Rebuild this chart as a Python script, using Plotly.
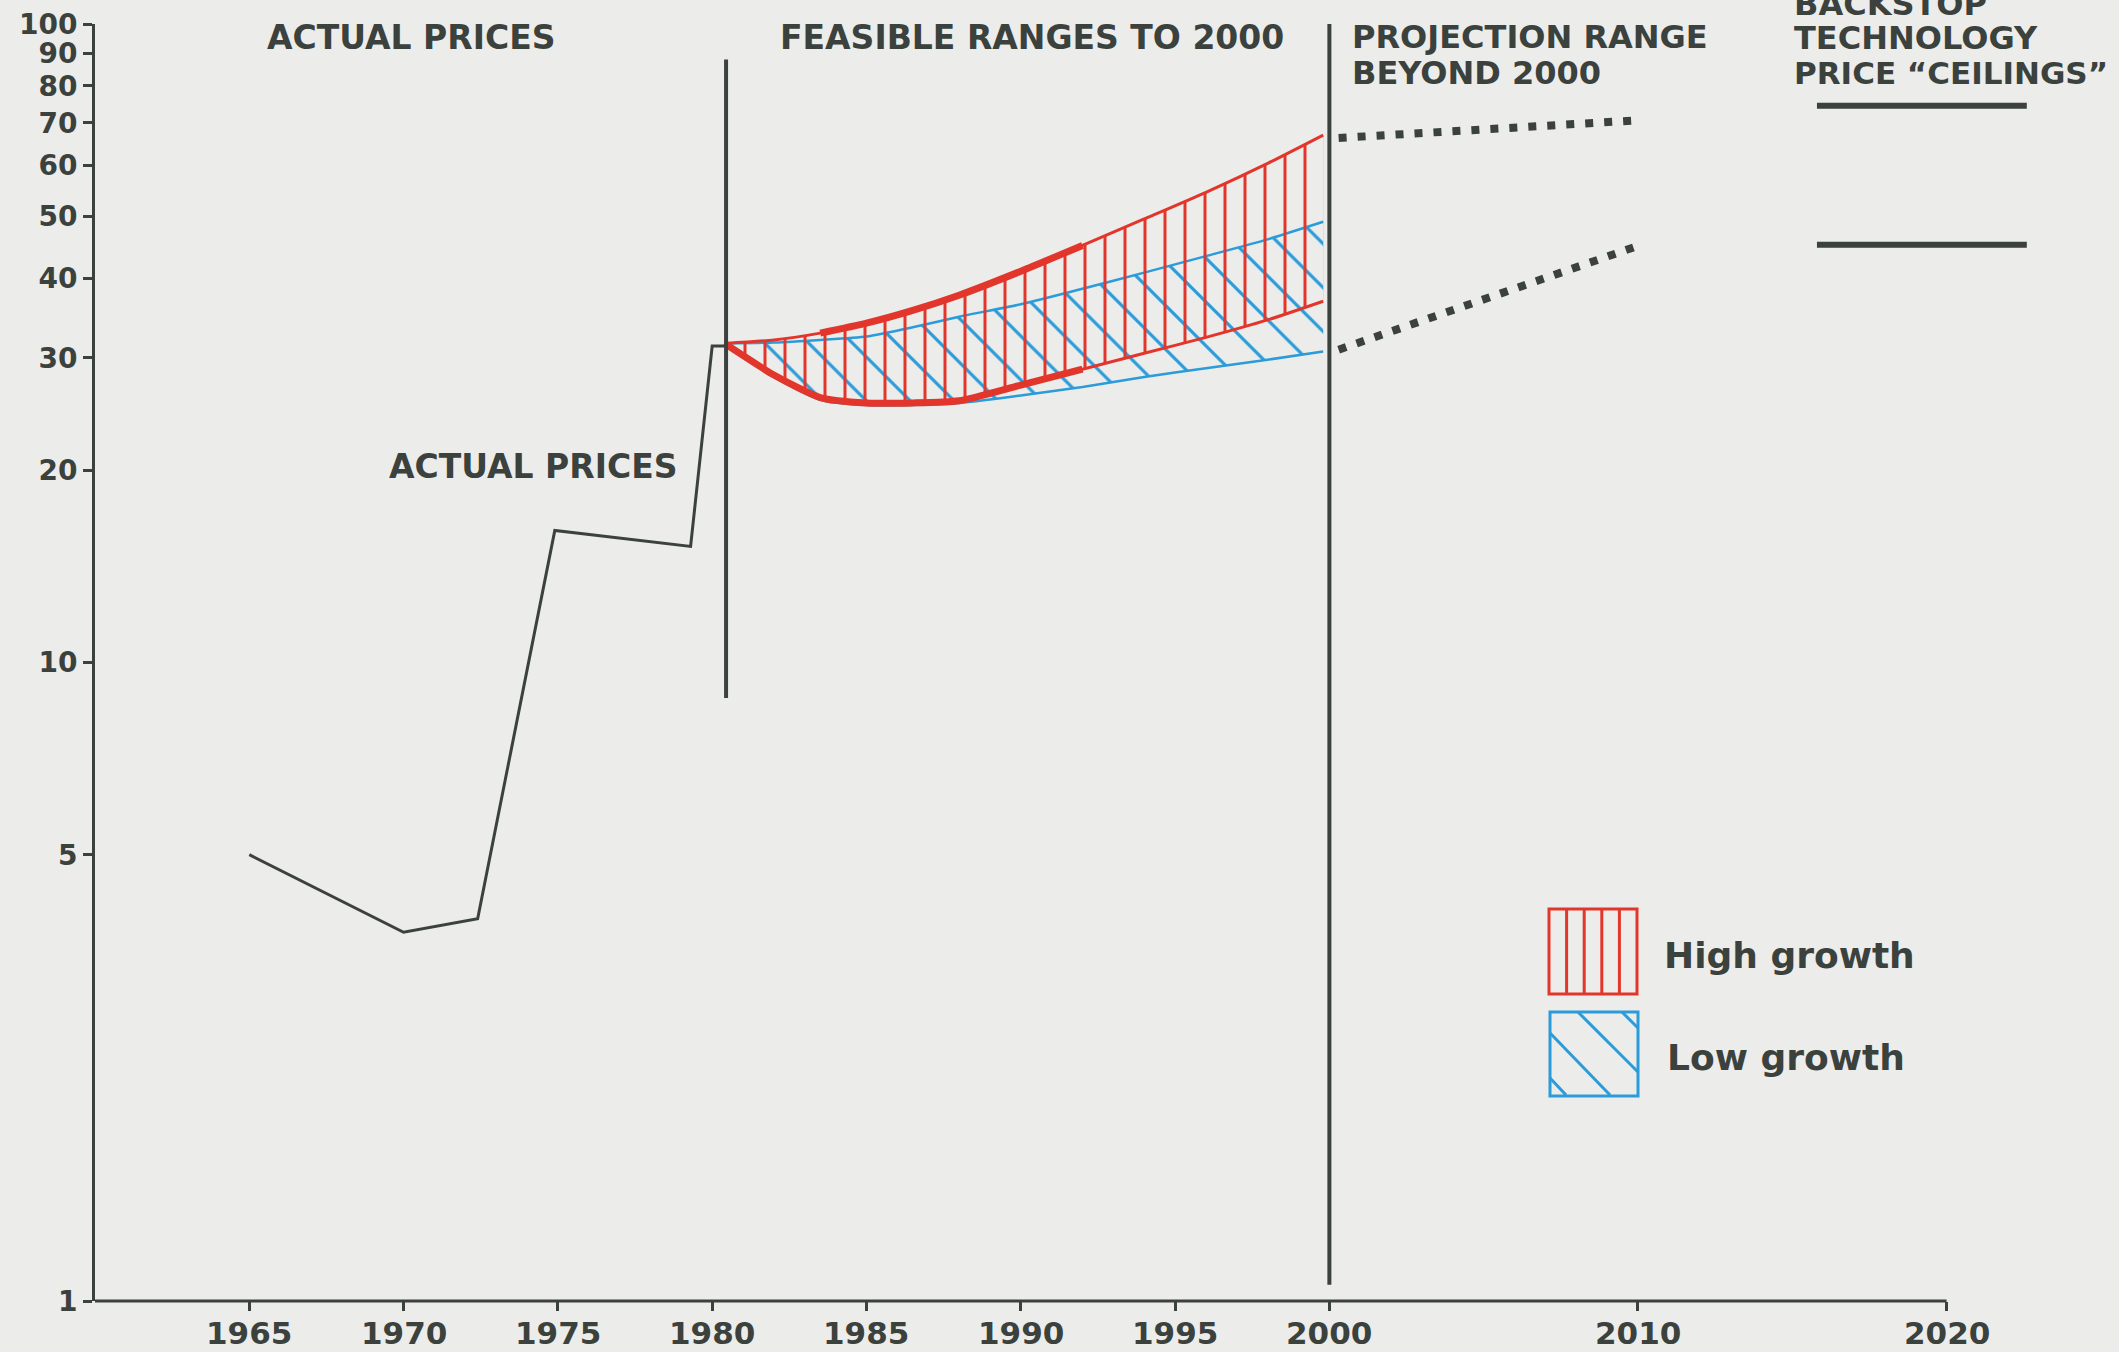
import plotly.graph_objects as go

# ---- data -------------------------------------------------------------
# Actual oil prices (US$ per barrel, log scale)
actual_years = [1965, 1970, 1972.4, 1974.9, 1979.3, 1980.0, 1980.45]
actual_prices = [5.0, 3.78, 3.97, 16.1, 15.2, 31.3, 31.3]

# Feasible price ranges to 2000
range_years = [1980.4, 1982, 1983.5, 1985, 1986.5, 1988, 1990, 1992, 1994, 1996, 1998, 1999.8]
high_upper = [31.6, 32.0, 32.8, 34.0, 35.6, 37.6, 41.0, 45.0, 49.5, 54.5, 60.5, 67.0]
high_lower = [31.6, 28.2, 26.0, 25.5, 25.5, 25.7, 27.2, 28.8, 30.5, 32.3, 34.4, 36.8]
low_upper = [31.6, 31.7, 32.0, 32.4, 33.5, 34.8, 36.4, 38.5, 40.8, 43.3, 46.0, 49.0]
low_lower = [31.6, 28.0, 25.8, 25.3, 25.3, 25.5, 26.2, 27.0, 28.0, 28.9, 29.8, 30.7]

# Projection range beyond 2000
proj_years = [2000.3, 2010.1]
proj_high = [66.3, 70.7]
proj_low = [30.9, 45.1]

# Backstop technology price ceilings
backstop_years = [2015.8, 2022.6]
backstop_high = [74.5, 74.5]
backstop_low = [45.1, 45.1]

# Period dividers
divider_years = [1980.45, 2000.0]
divider_bottom = [8.8, 1.06]
divider_top = [88.0, 100.0]

x_ticks = [1965, 1970, 1975, 1980, 1985, 1990, 1995, 2000, 2010, 2020]
x_tick_labels = [str(v) for v in x_ticks]
y_ticks = [1, 5, 10, 20, 30, 40, 50, 60, 70, 80, 90, 100]
y_tick_labels = [str(v) for v in y_ticks]

# ---- style ------------------------------------------------------------
INK = "#3b413d"
RED = "#e2362c"
BLUE = "#2b9bd9"
PAPER = "#ececea"
FONT = "DejaVu Sans"

W, H = 2119, 1352
L, R, T, B = 95, 49, 24, 51
PW, PH = W - L - R, H - T - B


def px(x):
    return (x - L) / PW


def py(y):
    return (H - B - y) / PH


fig = go.Figure()

# low growth band (diagonal hatching)
fig.add_trace(go.Scatter(x=range_years, y=low_lower, mode="lines",
                         line=dict(color=BLUE, width=2.5, shape="spline", smoothing=0.6),
                         hoverinfo="skip", showlegend=False))
fig.add_trace(go.Scatter(x=range_years, y=low_upper, mode="lines", fill="tonexty",
                         fillcolor="rgba(0,0,0,0)",
                         fillpattern=dict(shape="\\", size=31, solidity=0.1,
                                          fgcolor=BLUE, bgcolor="rgba(0,0,0,0)", fgopacity=1),
                         line=dict(color=BLUE, width=2.5, shape="spline", smoothing=0.6),
                         name="Low growth", showlegend=False))

# high growth band (vertical hatching)
fig.add_trace(go.Scatter(x=range_years, y=high_lower, mode="lines",
                         line=dict(color=RED, width=3, shape="spline", smoothing=0.6),
                         hoverinfo="skip", showlegend=False))
fig.add_trace(go.Scatter(x=range_years, y=high_upper, mode="lines", fill="tonexty",
                         fillcolor="rgba(0,0,0,0)",
                         fillpattern=dict(shape="|", size=20, solidity=0.15,
                                          fgcolor=RED, bgcolor="rgba(0,0,0,0)", fgopacity=1),
                         line=dict(color=RED, width=3, shape="spline", smoothing=0.6),
                         name="High growth", showlegend=False))

# heavier strokes along parts of the high growth boundary
fig.add_trace(go.Scatter(x=range_years[2:8], y=high_upper[2:8], mode="lines",
                         line=dict(color=RED, width=7, shape="spline", smoothing=0.6),
                         hoverinfo="skip", showlegend=False))
fig.add_trace(go.Scatter(x=range_years[0:8], y=high_lower[0:8], mode="lines",
                         line=dict(color=RED, width=7, shape="spline", smoothing=0.6),
                         hoverinfo="skip", showlegend=False))

# actual prices
fig.add_trace(go.Scatter(x=actual_years, y=actual_prices, mode="lines",
                         line=dict(color=INK, width=3), name="Actual prices", showlegend=False))

# period dividers
for xd, y0, y1 in zip(divider_years, divider_bottom, divider_top):
    fig.add_trace(go.Scatter(x=[xd, xd], y=[y0, y1], mode="lines",
                             line=dict(color=INK, width=4), hoverinfo="skip", showlegend=False))

# projection range beyond 2000 (dotted)
for ys in (proj_high, proj_low):
    fig.add_trace(go.Scatter(x=proj_years, y=ys, mode="lines",
                             line=dict(color=INK, width=8, dash="8px,11px"),
                             hoverinfo="skip", showlegend=False))

# backstop technology ceilings
for ys in (backstop_high, backstop_low):
    fig.add_trace(go.Scatter(x=backstop_years, y=ys, mode="lines",
                             line=dict(color=INK, width=6), hoverinfo="skip", showlegend=False))


# ---- text -------------------------------------------------------------
def label(text, x, y, size=32, anchor="left"):
    fig.add_annotation(text=text, xref="paper", yref="paper", x=px(x), y=py(y),
                       xanchor=anchor, yanchor="middle", showarrow=False,
                       font=dict(family=FONT, size=size, color=INK, weight="bold"))


label("ACTUAL PRICES", 265, 37, size=33)
label("FEASIBLE RANGES TO 2000", 778, 37, size=33)
label("PROJECTION RANGE", 1350, 37)
label("BEYOND 2000", 1350, 73)
label("BACKSTOP", 1792, 4)
label("TECHNOLOGY", 1792, 38)
label("PRICE \u201cCEILINGS\u201d", 1792, 73, size=31)
label("ACTUAL PRICES", 387, 466, size=33)
label("High growth", 1662, 955, size=36)
label("Low growth", 1665, 1057, size=36)

# year labels sit just under the baseline ticks
for xv, txt in zip(x_ticks, x_tick_labels):
    fig.add_annotation(text=txt, xref="x", yref="paper", x=xv, y=py(1333),
                       xanchor="center", yanchor="middle", showarrow=False,
                       font=dict(family=FONT, size=31, color=INK, weight="bold"))

# ---- legend swatches ----------------------------------------------------
shapes = []


def seg(x0, y0, x1, y1, color, width=3):
    shapes.append(dict(type="line", xref="paper", yref="paper",
                       x0=px(x0), y0=py(y0), x1=px(x1), y1=py(y1),
                       line=dict(color=color, width=width)))


def box(x0, y0, x1, y1, color):
    shapes.append(dict(type="rect", xref="paper", yref="paper",
                       x0=px(x0), y0=py(y0), x1=px(x1), y1=py(y1),
                       line=dict(color=color, width=3), fillcolor="rgba(0,0,0,0)"))


box(1549, 909, 1637, 994, RED)
for k in range(1, 5):
    xv = 1549 + k * (1637 - 1549) / 5
    seg(xv, 909, xv, 994, RED)

box(1550, 1012, 1638, 1096, BLUE)
seg(1550, 1033, 1610, 1095, BLUE)
seg(1578, 1012, 1638, 1072, BLUE)
seg(1622, 1012, 1638, 1028, BLUE)
seg(1550, 1078, 1566, 1095, BLUE)

# x axis baseline stops at 2020
shapes.append(dict(type="line", xref="x", yref="paper", x0=1960, x1=2020, y0=0, y1=0,
                   line=dict(color=INK, width=3)))

fig.update_layout(
    width=W, height=H,
    margin=dict(l=L, r=R, t=T, b=B, pad=0, autoexpand=False),
    paper_bgcolor=PAPER, plot_bgcolor=PAPER,
    shapes=shapes,
    showlegend=False,
    xaxis=dict(range=[1960, 2024], tickvals=x_ticks, showticklabels=False,
               automargin=False,
               showgrid=False, zeroline=False, showline=False,
               ticks="outside", ticklen=9, tickwidth=3, tickcolor=INK),
    yaxis=dict(type="log", range=[0, 2], tickvals=y_ticks, ticktext=y_tick_labels,
               automargin=False,
               showgrid=False, zeroline=False, showline=True, linewidth=3, linecolor=INK,
               ticks="outside", ticklen=9, tickwidth=3, tickcolor=INK,
               tickfont=dict(family=FONT, size=28, color=INK, weight="bold")),
)

fig.write_html("out.html")
